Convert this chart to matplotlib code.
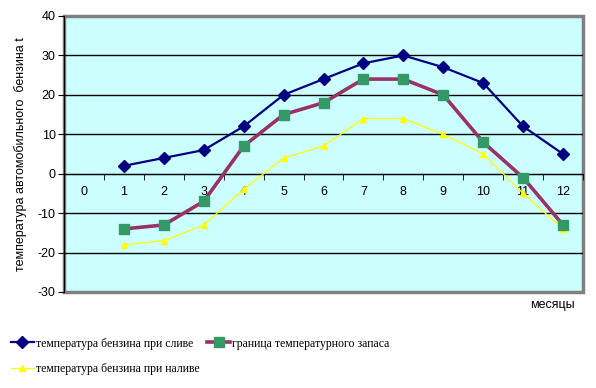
import matplotlib
matplotlib.use('Agg')
import matplotlib.pyplot as plt
from matplotlib.patches import Rectangle

# данные по месяцам
months = [1, 2, 3, 4, 5, 6, 7, 8, 9, 10, 11, 12]
t_sliv = [2, 4, 6, 12, 20, 24, 28, 30, 27, 23, 12, 5]
t_granica = [-14, -13, -7, 7, 15, 18, 24, 24, 20, 8, -1, -13]
t_naliv = [-18, -17, -13, -4, 4, 7, 14, 14, 10, 5, -5, -14]
cat_labels = [str(i) for i in range(13)]

plt.rcParams['font.family'] = ['Liberation Sans', 'DejaVu Sans']
plt.rcParams['axes.unicode_minus'] = False

fig = plt.figure(figsize=(5.96, 3.88), dpi=100)
ax = fig.add_axes([64/596, 96/388, 519/596, 276/388])
ax.set_facecolor('#CCFFFF')

l1, = ax.plot(months, t_sliv, color='#000080', lw=1.6, marker='D', ms=6.5,
              label='температура бензина при сливе', zorder=5)
l2, = ax.plot(months, t_granica, color='#993366', lw=2.6, marker='s', ms=7,
              mfc='#339966', mec='#339966', label='граница температурного запаса', zorder=4)
l3, = ax.plot(months, t_naliv, color='#FFFF00', lw=0.9, marker='^', ms=5,
              label='температура бензина при наливе', zorder=3)

ax.set_xlim(-0.5, 12.5)
ax.set_ylim(-30, 40)
ax.set_yticks(range(-30, 41, 10))
for y in range(-20, 40, 10):
    ax.axhline(y, color='black', lw=1, zorder=1)

# ось категорий проходит через ноль
ax.spines['bottom'].set_position(('data', 0))
ax.spines['bottom'].set_color('black')
ax.spines['top'].set_visible(False)
ax.spines['right'].set_visible(False)
ax.set_xticks(range(13))
ax.set_xticklabels(cat_labels, fontsize=9)
ax.set_xticks([i + 0.5 for i in range(-1, 13)], minor=True)
ax.tick_params(axis='x', which='major', length=0, pad=9)
ax.tick_params(axis='x', which='minor', length=4, direction='out', color='black')
ax.tick_params(axis='y', length=4, labelsize=9, pad=2)

# серая рамка области построения
ax.add_patch(Rectangle((0, 0), 1, 1, transform=ax.transAxes, fill=False,
                       edgecolor='#808080', lw=2.5, zorder=0.5, clip_on=False))
ax.spines['left'].set_zorder(6)

ax.set_ylabel('температура автомобильного  бензина t', fontsize=9, labelpad=8)
fig.text(575/596, 1 - 305/388, 'месяцы', fontsize=9, ha='right', va='center')

fig.legend([l1, l3, l2], [l1.get_label(), l3.get_label(), l2.get_label()],
           loc='upper left', bbox_to_anchor=(0.0, 1 - 327/388), ncol=2,
           frameon=False, handlelength=2.0, handletextpad=0.15, columnspacing=0.6,
           labelspacing=1.15, prop={'family': 'Liberation Serif', 'size': 8.5})

plt.savefig('out.png', dpi=100)
